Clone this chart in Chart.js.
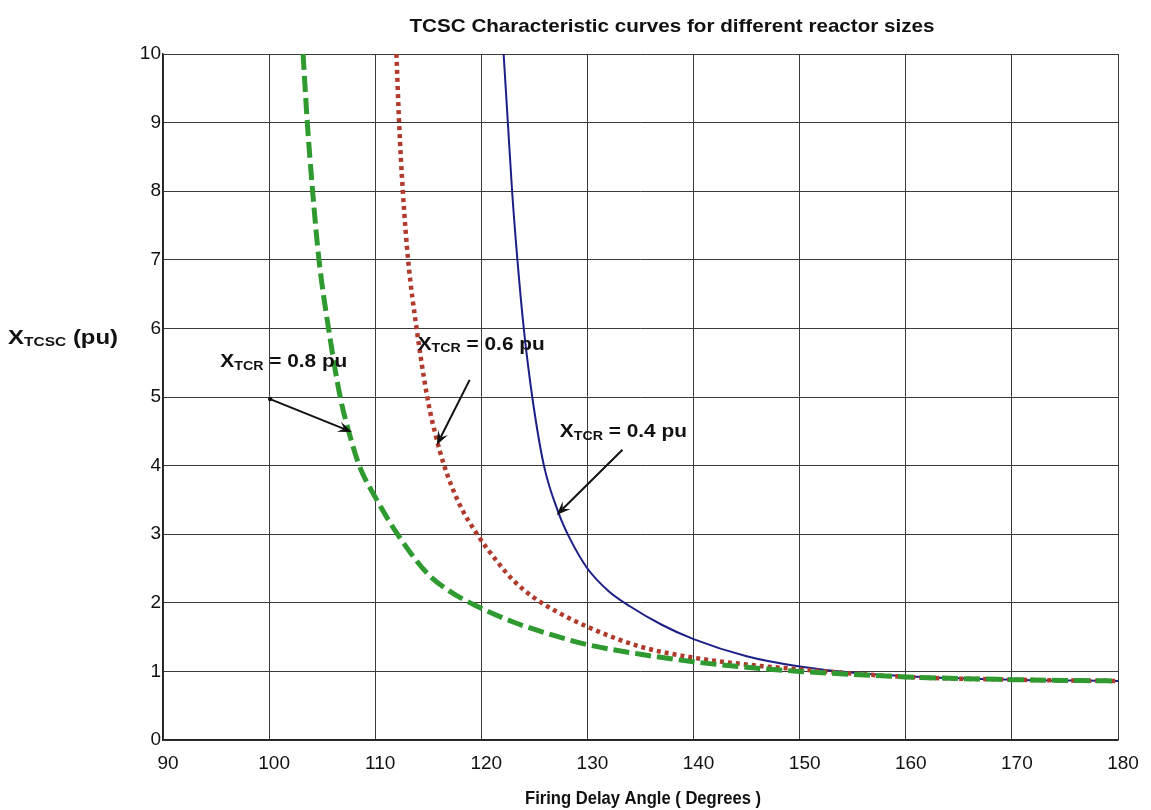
<!DOCTYPE html>
<html>
<head>
<meta charset="utf-8">
<script src="https://cdn.jsdelivr.net/npm/chart.js@4.4.1/dist/chart.umd.min.js"></script>
<style>
  html, body { margin: 0; padding: 0; background: #ffffff; }
  #wrap { width: 1151px; height: 810px; position: relative; }
</style>
</head>
<body>
<div id="wrap"><canvas id="c" width="1151" height="810"></canvas></div>
<script>
// Firing delay angle (degrees) and TCSC reactance (pu) for each reactor size
const alpha08 = [103.2, 103.6, 104.1, 104.7, 105.6, 106.7, 107.5, 108.5, 110, 112.1, 114.9, 117, 119.6, 123, 126.5, 130, 135, 140, 145, 150, 160, 170, 180];
const xtcsc08 = [10, 9, 8, 7, 6, 5, 4.5, 4, 3.54, 3, 2.43, 2.17, 1.95, 1.72, 1.54, 1.39, 1.25, 1.14, 1.06, 1.0, 0.92, 0.88, 0.86];

const alpha06 = [112.0, 112.25, 112.6, 113.1, 113.9, 114.9, 115.6, 116.5, 117.9, 119.6, 121.5, 123, 125, 127, 130, 135, 140, 145, 150, 160, 170, 180];
const xtcsc06 = [10, 9, 8, 7, 6, 5, 4.5, 4, 3.45, 3, 2.6, 2.33, 2.07, 1.88, 1.65, 1.36, 1.2, 1.1, 1.03, 0.92, 0.88, 0.86];

const alpha04 = [122.1, 122.5, 122.9, 123.4, 124.0, 124.8, 125.9, 127.3, 128.3, 130, 132, 134, 137, 140, 145, 150, 155, 160, 170, 180];
const xtcsc04 = [10, 9, 8, 7, 6, 5, 4, 3.3, 2.95, 2.5, 2.17, 1.95, 1.68, 1.47, 1.22, 1.07, 0.98, 0.93, 0.88, 0.86];

// Axis ticks
const xTicks = [90, 100, 110, 120, 130, 140, 150, 160, 170, 180];
const yTicks = [0, 1, 2, 3, 4, 5, 6, 7, 8, 9, 10];

// Callouts: label anchor and arrow (tail -> head) in data units
const callouts = [
  { sub: 'TCR', rest: ' = 0.8 pu', text: [95.4, 5.51], tail: [100.1, 4.97], head: [107.8, 4.49], dot: true },
  { sub: 'TCR', rest: ' = 0.6 pu', text: [114.0, 5.76], tail: [118.9, 5.25], head: [115.8, 4.30], dot: false },
  { sub: 'TCR', rest: ' = 0.4 pu', text: [127.4, 4.49], tail: [133.3, 4.23], head: [127.1, 3.28], dot: false }
];

const FONT = '"Liberation Sans", Arial, Helvetica, sans-serif';

function pts(xs, ys) { return xs.map((x, i) => ({ x: x, y: ys[i] })); }

// Single line of bold text, centred, stretched horizontally to a given width
function fitText(ctx, text, cx, cy, size, width) {
  ctx.font = 'bold ' + size + 'px ' + FONT;
  const w = ctx.measureText(text).width;
  ctx.save();
  ctx.translate(cx, cy);
  ctx.scale(width / w, 1);
  ctx.textAlign = 'center';
  ctx.textBaseline = 'middle';
  ctx.fillText(text, 0, 0);
  ctx.restore();
}

// "X" + subscript + trailing text, left edge at x, vertical middle at y
function drawSubLabel(ctx, x, y, sub, rest, big, small, width) {
  const parts = [
    { t: 'X', s: big, dy: 0 },
    { t: sub, s: small, dy: 4 },
    { t: rest, s: big, dy: 0 }
  ];
  let total = 0;
  parts.forEach(p => { ctx.font = 'bold ' + p.s + 'px ' + FONT; p.w = ctx.measureText(p.t).width; total += p.w; });
  const k = width ? width / total : 1;
  ctx.save();
  ctx.translate(x, y);
  ctx.scale(k, 1);
  ctx.textAlign = 'left';
  ctx.textBaseline = 'middle';
  let cx = 0;
  parts.forEach(p => {
    ctx.font = 'bold ' + p.s + 'px ' + FONT;
    ctx.fillText(p.t, cx, p.dy);
    cx += p.w;
  });
  ctx.restore();
}

function arrow(ctx, x1, y1, x2, y2) {
  const ang = Math.atan2(y2 - y1, x2 - x1);
  const len = 14, half = 5.5;
  const c = Math.cos(ang), s = Math.sin(ang);
  ctx.beginPath();
  ctx.moveTo(x1, y1);
  ctx.lineTo(x2 - c * len * 0.6, y2 - s * len * 0.6);
  ctx.stroke();
  ctx.beginPath();
  ctx.moveTo(x2, y2);
  ctx.lineTo(x2 - c * len + s * half, y2 - s * len - c * half);
  ctx.lineTo(x2 - c * len * 0.6, y2 - s * len * 0.6);
  ctx.lineTo(x2 - c * len - s * half, y2 - s * len + c * half);
  ctx.closePath();
  ctx.fill();
}

const textPlugin = {
  id: 'chartText',
  afterDraw(chart) {
    const ctx = chart.ctx;
    const xs = chart.scales.x, ys = chart.scales.y;
    ctx.save();
    ctx.fillStyle = '#111';
    ctx.strokeStyle = '#111';

    // Title
    fitText(ctx, 'TCSC Characteristic curves for different reactor sizes', 672, 27, 19, 525);

    // X axis title
    fitText(ctx, 'Firing Delay Angle ( Degrees )', 643, 799, 18, 236);

    // Y axis title
    drawSubLabel(ctx, 8, 338, 'TCSC', ' (pu)', 20, 13, 110);

    // Callouts
    ctx.lineWidth = 2;
    callouts.forEach(c => {
      const tx = xs.getPixelForValue(c.text[0]), ty = ys.getPixelForValue(c.text[1]);
      drawSubLabel(ctx, tx, ty, c.sub, c.rest, 19, 13, 127);
      const x1 = xs.getPixelForValue(c.tail[0]), y1 = ys.getPixelForValue(c.tail[1]);
      const x2 = xs.getPixelForValue(c.head[0]), y2 = ys.getPixelForValue(c.head[1]);
      arrow(ctx, x1, y1, x2, y2);
      if (c.dot) {
        ctx.beginPath();
        ctx.arc(x1, y1, 2.2, 0, Math.PI * 2);
        ctx.fill();
      }
    });
    ctx.restore();
  }
};

new Chart(document.getElementById('c'), {
  type: 'line',
  data: {
    datasets: [
      {
        label: 'XTCR = 0.8 pu',
        data: pts(alpha08, xtcsc08),
        borderColor: '#2f9a30',
        borderWidth: 5,
        borderDash: [16, 6],
        pointRadius: 0,
        cubicInterpolationMode: 'monotone',
        order: 0
      },
      {
        label: 'XTCR = 0.6 pu',
        data: pts(alpha06, xtcsc06),
        borderColor: '#b03a2c',
        borderWidth: 4.5,
        borderDash: [4, 4],
        pointRadius: 0,
        cubicInterpolationMode: 'monotone',
        order: 1
      },
      {
        label: 'XTCR = 0.4 pu',
        data: pts(alpha04, xtcsc04),
        borderColor: '#1c1f86',
        borderWidth: 2,
        pointRadius: 0,
        cubicInterpolationMode: 'monotone',
        order: 2
      }
    ]
  },
  options: {
    responsive: false,
    animation: false,
    devicePixelRatio: 1,
    layout: { padding: { top: 54, right: 33, bottom: 0, left: 0 } },
    plugins: { legend: { display: false }, title: { display: false }, tooltip: { enabled: false } },
    scales: {
      x: {
        type: 'linear',
        min: 90, max: 180,
        afterFit(scale) { scale.height = 70; },
        afterBuildTicks(scale) { scale.ticks = xTicks.map(v => ({ value: v })); },
        grid: { color: '#3a3a3a', lineWidth: 1, drawTicks: false },
        border: { color: '#222', width: 1.5 },
        ticks: {
          padding: 12,
          labelOffset: 5,
          color: '#111',
          font: { family: FONT, size: 19 },
          callback: v => String(v)
        }
      },
      y: {
        type: 'linear',
        min: 0, max: 10,
        afterFit(scale) { scale.width = 163; },
        afterBuildTicks(scale) { scale.ticks = yTicks.map(v => ({ value: v })); },
        grid: { color: '#3a3a3a', lineWidth: 1, drawTicks: false },
        border: { color: '#222', width: 1.5 },
        ticks: {
          padding: 2,
          color: '#111',
          font: { family: FONT, size: 19 },
          callback: v => String(v)
        }
      }
    }
  },
  plugins: [textPlugin]
});
</script>
</body>
</html>
